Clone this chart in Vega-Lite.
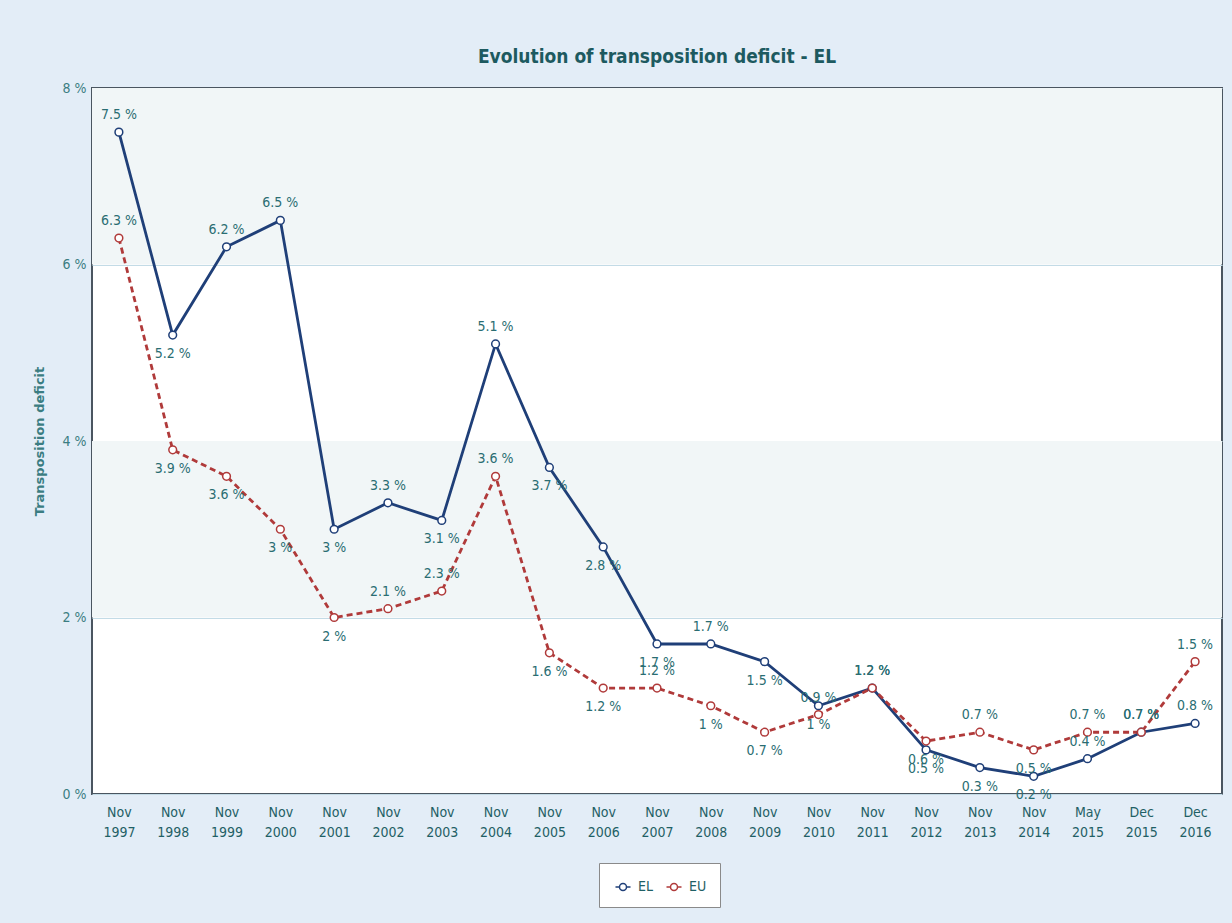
{
  "$schema": "https://vega.github.io/schema/vega-lite/v6.json",
  "autosize": {"type": "fit", "contains": "padding"},
  "width": 1232,
  "height": 923,
  "padding": {"left": 33, "top": 48, "right": 10, "bottom": 84},
  "background": "#e3edf7",
  "config": {
    "font": "DejaVu Sans Condensed, DejaVu Sans",
    "view": {"stroke": "#4a5560", "strokeWidth": 2, "fill": "#ffffff"}
  },
  "title": {
    "text": "Evolution of transposition deficit - EL",
    "fontSize": 19,
    "fontWeight": "bold",
    "color": "#1d5a60",
    "offset": 14,
    "anchor": "middle"
  },
  "datasets": {
    "bands": [{"from": 2, "to": 4}, {"from": 6, "to": 8}],
    "deficit": [
      {"period": "Nov 1997", "series": "EL", "value": 7.5},
      {"period": "Nov 1998", "series": "EL", "value": 5.2},
      {"period": "Nov 1999", "series": "EL", "value": 6.2},
      {"period": "Nov 2000", "series": "EL", "value": 6.5},
      {"period": "Nov 2001", "series": "EL", "value": 3.0},
      {"period": "Nov 2002", "series": "EL", "value": 3.3},
      {"period": "Nov 2003", "series": "EL", "value": 3.1},
      {"period": "Nov 2004", "series": "EL", "value": 5.1},
      {"period": "Nov 2005", "series": "EL", "value": 3.7},
      {"period": "Nov 2006", "series": "EL", "value": 2.8},
      {"period": "Nov 2007", "series": "EL", "value": 1.7},
      {"period": "Nov 2008", "series": "EL", "value": 1.7},
      {"period": "Nov 2009", "series": "EL", "value": 1.5},
      {"period": "Nov 2010", "series": "EL", "value": 1.0},
      {"period": "Nov 2011", "series": "EL", "value": 1.2},
      {"period": "Nov 2012", "series": "EL", "value": 0.5},
      {"period": "Nov 2013", "series": "EL", "value": 0.3},
      {"period": "Nov 2014", "series": "EL", "value": 0.2},
      {"period": "May 2015", "series": "EL", "value": 0.4},
      {"period": "Dec 2015", "series": "EL", "value": 0.7},
      {"period": "Dec 2016", "series": "EL", "value": 0.8},
      {"period": "Nov 1997", "series": "EU", "value": 6.3},
      {"period": "Nov 1998", "series": "EU", "value": 3.9},
      {"period": "Nov 1999", "series": "EU", "value": 3.6},
      {"period": "Nov 2000", "series": "EU", "value": 3.0},
      {"period": "Nov 2001", "series": "EU", "value": 2.0},
      {"period": "Nov 2002", "series": "EU", "value": 2.1},
      {"period": "Nov 2003", "series": "EU", "value": 2.3},
      {"period": "Nov 2004", "series": "EU", "value": 3.6},
      {"period": "Nov 2005", "series": "EU", "value": 1.6},
      {"period": "Nov 2006", "series": "EU", "value": 1.2},
      {"period": "Nov 2007", "series": "EU", "value": 1.2},
      {"period": "Nov 2008", "series": "EU", "value": 1.0},
      {"period": "Nov 2009", "series": "EU", "value": 0.7},
      {"period": "Nov 2010", "series": "EU", "value": 0.9},
      {"period": "Nov 2011", "series": "EU", "value": 1.2},
      {"period": "Nov 2012", "series": "EU", "value": 0.6},
      {"period": "Nov 2013", "series": "EU", "value": 0.7},
      {"period": "Nov 2014", "series": "EU", "value": 0.5},
      {"period": "May 2015", "series": "EU", "value": 0.7},
      {"period": "Dec 2015", "series": "EU", "value": 0.7},
      {"period": "Dec 2016", "series": "EU", "value": 1.5}
    ]
  },
  "layer": [
    {
      "data": {"name": "bands"},
      "mark": {"type": "rect", "fill": "#f1f6f7"},
      "encoding": {
        "y": {"field": "from", "type": "quantitative", "scale": {"domain": [0, 8]}},
        "y2": {"field": "to"}
      }
    },
    {
      "data": {"name": "deficit"},
      "transform": [
        {"window": [{"op": "lag", "field": "value", "as": "prev"}], "groupby": ["series"]}
      ],
      "encoding": {
        "x": {
          "field": "period",
          "type": "ordinal",
          "sort": null,
          "scale": {"padding": 0.5},
          "axis": {
            "title": null,
            "labelAngle": 0,
            "labelExpr": "split(datum.label, ' ')",
            "labelFontSize": 14,
            "labelColor": "#1f6065",
            "labelLineHeight": 20,
            "labelPadding": 11,
            "ticks": false,
            "domain": false,
            "grid": false
          }
        },
        "y": {
          "field": "value",
          "type": "quantitative",
          "scale": {"domain": [0, 8]},
          "axis": {
            "title": "Transposition deficit",
            "titleFont": "DejaVu Sans",
            "titleFontSize": 13,
            "titleFontWeight": "bold",
            "titleColor": "#3b7d82",
            "titlePadding": 16,
            "values": [0, 2, 4, 6, 8],
            "labelExpr": "datum.value + ' %'",
            "labelFontSize": 14,
            "labelColor": "#3b7d82",
            "labelPadding": 6,
            "ticks": false,
            "domain": false,
            "gridColor": "#c3dbe6",
            "gridWidth": 1
          }
        },
        "color": {
          "field": "series",
          "type": "nominal",
          "scale": {"domain": ["EL", "EU"], "range": ["#1f3f78", "#b03a3a"]},
          "legend": {
            "title": null,
            "orient": "none",
            "legendX": {"expr": "width / 2 - 58"},
            "legendY": {"expr": "height + 69"},
            "direction": "horizontal",
            "padding": 13,
            "strokeColor": "#8a8a8a",
            "fillColor": "#ffffff",
            "symbolType": "M-0.35,0A0.35,0.35 0 1,1 0.35,0A0.35,0.35 0 1,1 -0.35,0M-0.75,0L-0.35,0M0.35,0L0.75,0",
            "symbolFillColor": "#ffffff",
            "symbolStrokeWidth": 1.5,
            "symbolSize": 400,
            "labelFontSize": 14,
            "labelColor": "#1f6065",
            "labelOffset": 4,
            "columnPadding": 10
          }
        }
      },
      "layer": [
        {
          "transform": [{"filter": "datum.series == 'EL'"}],
          "mark": {"type": "line", "strokeWidth": 2.8}
        },
        {
          "transform": [{"filter": "datum.series == 'EU'"}],
          "mark": {"type": "line", "strokeWidth": 2.8, "strokeDash": [6, 4]}
        },
        {
          "mark": {"type": "point", "filled": false, "fill": "#ffffff", "fillOpacity": 1, "size": 60, "strokeWidth": 1.5, "opacity": 1}
        },
        {
          "transform": [{"filter": "datum.prev == null || datum.value >= datum.prev"}],
          "mark": {"type": "text", "dy": -17, "fontSize": 14, "text": {"expr": "format(datum.value, '.1~f') + ' %'"}},
          "encoding": {"color": {"value": "#2a6d72"}}
        },
        {
          "transform": [{"filter": "datum.prev != null && datum.value < datum.prev"}],
          "mark": {"type": "text", "dy": 19, "fontSize": 14, "text": {"expr": "format(datum.value, '.1~f') + ' %'"}},
          "encoding": {"color": {"value": "#2a6d72"}}
        }
      ]
    }
  ]
}
